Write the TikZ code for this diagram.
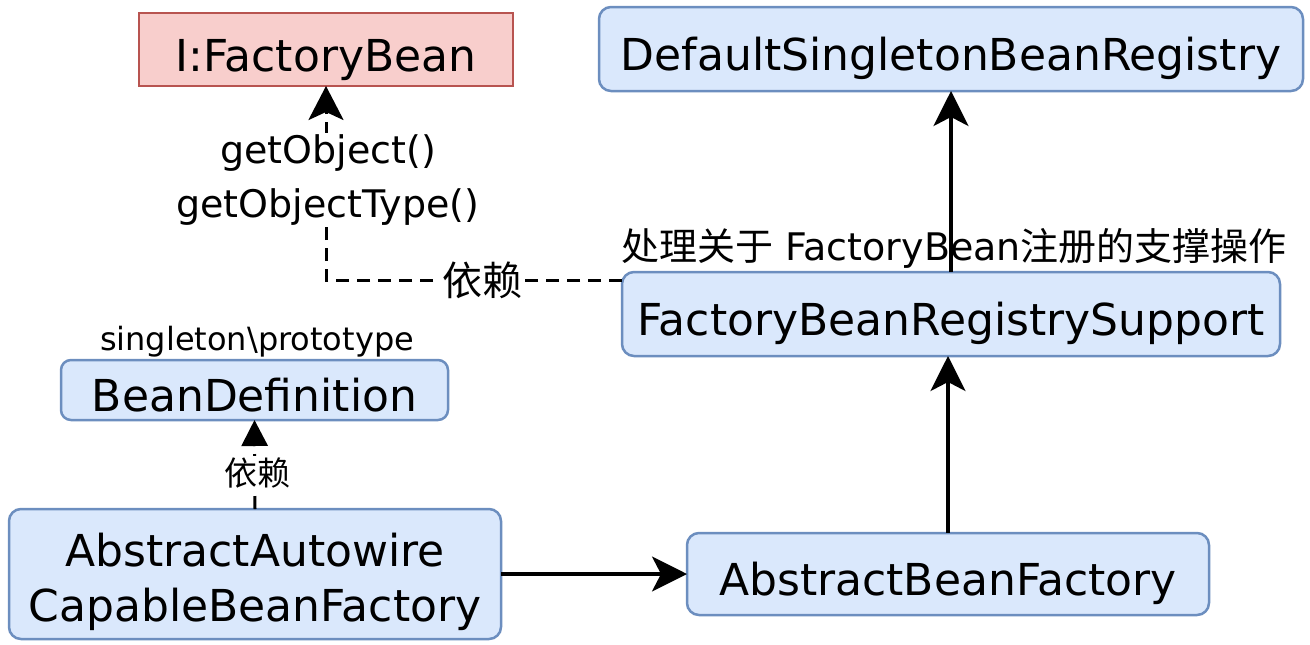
\documentclass[tikz,border=0pt]{standalone}
\usepackage{fontspec}
\setmainfont{DejaVu Sans}
\newfontfamily\cjk{Noto Sans CJK SC}
\usetikzlibrary{arrows.meta}
\definecolor{clsFill}{HTML}{DAE8FC}
\definecolor{clsLine}{HTML}{6C8EBF}
\definecolor{ifcFill}{HTML}{F8CECC}
\definecolor{ifcLine}{HTML}{B85450}

\begin{document}
\begin{tikzpicture}[x=1pt,y=-1pt,every node/.style={inner sep=0pt,outer sep=0pt},
    clsbox/.style={draw=clsLine,fill=clsFill,line width=2.5pt,rounded corners=12pt,
      font=\fontsize{44}{55}\selectfont,align=center},
    oneline/.style={text height=54pt,text depth=11pt},
    ifcbox/.style={draw=ifcLine,fill=ifcFill,line width=2.5pt,font=\fontsize{44}{55}\selectfont},
    lbl/.style={fill=white,inner sep=2pt,align=center},
    solidarr/.style={line width=3.5pt,-{Stealth[length=35pt,width=35pt,inset=9pt]}},
    deparr/.style={line width=3pt,dash pattern=on 13pt off 8pt}]
  \useasboundingbox (0,0) rectangle (1310,645);
  % classes
  \node[ifcbox,oneline,minimum width=374pt,minimum height=73pt] (factoryBean) at (326,49.5) {I:FactoryBean};
  \node[clsbox,oneline,minimum width=704pt,minimum height=84pt] (singletonReg) at (951,49) {DefaultSingletonBeanRegistry};
  \node[clsbox,oneline,minimum width=658pt,minimum height=84pt] (registrySupport) at (951,314) {FactoryBeanRegistrySupport};
  \node[clsbox,text height=50pt,text depth=7pt,minimum width=387pt,minimum height=60pt,rounded corners=10pt] (beanDef) at (254.5,390) {BeanDefinition};
  \node[clsbox,minimum width=492pt,minimum height=130pt] (autowireFactory) at (255,574) {\rule{0pt}{1.1em}AbstractAutowire\\CapableBeanFactory};
  \node[clsbox,oneline,minimum width=522pt,minimum height=82pt] (beanFactory) at (948,574) {AbstractBeanFactory};
  % connectors
  \coordinate (depBend) at (326,280);
  \draw[solidarr] (autowireFactory.east) -- (beanFactory.west);
  \draw[solidarr] (beanFactory.north) -- (beanFactory.north |- registrySupport.south);
  \draw[solidarr] (registrySupport.north) -- (singletonReg.south);
  \draw[deparr,-{Stealth[length=34pt,width=35pt,inset=8pt]}] (registrySupport.west |- depBend) -- (depBend) -- (factoryBean.south);
  \draw[deparr,-{Triangle[length=26pt,width=26pt]}] (autowireFactory.north) -- (beanDef.south);
  % labels
  \node[lbl,font=\fontsize{38}{54}\selectfont] (methodLabel) at (328,180) {getObject()\\getObjectType()};
  \node[lbl,font=\fontsize{40}{48}\selectfont] (depLabelTop) at (482,280) {\cjk 依赖};
  \node[lbl,font=\fontsize{33}{40}\selectfont] (depLabelLow) at (257,473) {\cjk 依赖};
  \node[font=\fontsize{32}{40}\selectfont] (scopeLabel) at (257,342) {singleton\textbackslash prototype};
  \node[font=\fontsize{38}{46}\selectfont] (supportLabel) at (954,248) {{\cjk 处理关于} FactoryBean{\cjk 注册的支撑操作}};
\end{tikzpicture}
\end{document}
